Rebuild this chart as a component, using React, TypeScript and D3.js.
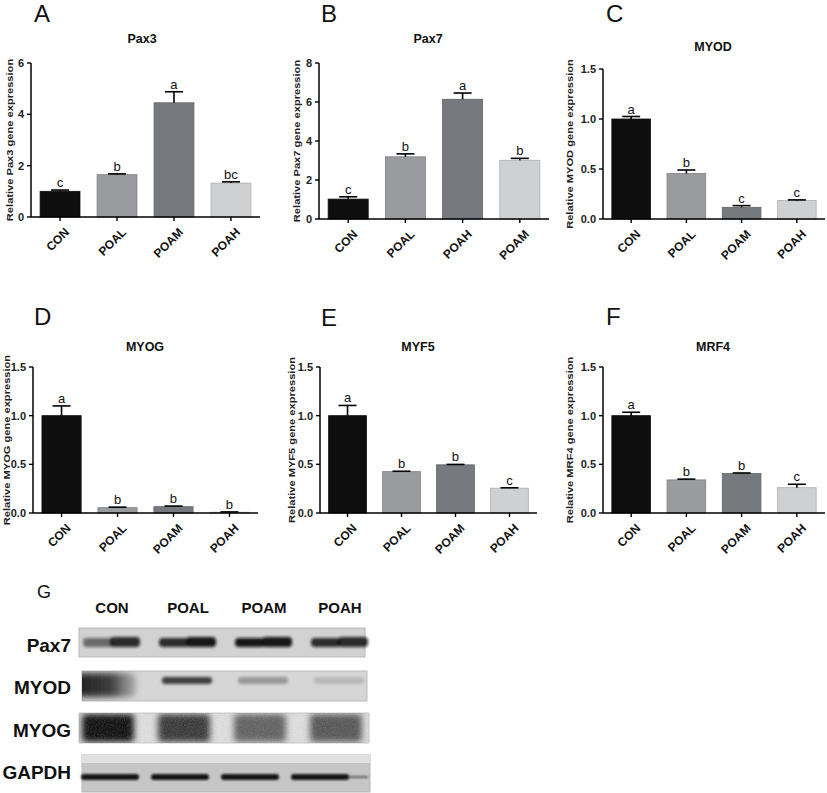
import React from 'react';
import * as d3 from 'd3';

// ---------- data ----------
const groupsStd = ['CON', 'POAL', 'POAM', 'POAH'];
const groupsPax7 = ['CON', 'POAL', 'POAH', 'POAM'];

const pax3Mean = [1.0, 1.65, 4.45, 1.32];
const pax3Err = [0.05, 0.03, 0.43, 0.05];
const pax3Sig = ['c', 'b', 'a', 'bc'];

const pax7Mean = [1.02, 3.19, 6.14, 3.01];
const pax7Err = [0.12, 0.15, 0.32, 0.1];
const pax7Sig = ['c', 'b', 'a', 'b'];

const myodMean = [1.0, 0.455, 0.117, 0.185];
const myodErr = [0.025, 0.035, 0.017, 0.006];
const myodSig = ['a', 'b', 'c', 'c'];

const myogMean = [1.0, 0.055, 0.065, 0.008];
const myogErr = [0.1, 0.005, 0.006, 0.003];
const myogSig = ['a', 'b', 'b', 'b'];

const myf5Mean = [1.0, 0.425, 0.495, 0.255];
const myf5Err = [0.105, 0.004, 0.004, 0.004];
const myf5Sig = ['a', 'b', 'b', 'c'];

const mrf4Mean = [1.0, 0.34, 0.405, 0.26];
const mrf4Err = [0.035, 0.008, 0.006, 0.035];
const mrf4Sig = ['a', 'b', 'b', 'c'];

const ticksBig6 = [0, 2, 4, 6];
const ticksBig8 = [0, 2, 4, 6, 8];
const ticksSmall = [0, 0.5, 1.0, 1.5];

// western blot (relative band darkness per lane)
const blotLanes = ['CON', 'POAL', 'POAM', 'POAH'];
const blotRows = ['Pax7', 'MYOD', 'MYOG', 'GAPDH'];
const pax7BandLeft = [0.55, 0.85, 0.95, 0.85];
const pax7BandRight = [0.85, 0.95, 0.95, 0.85];
const myodBand = [0.92, 0.75, 0.3, 0.15];
const myogBand = [1.0, 0.8, 0.6, 0.65];
const gapdhBand = [0.95, 0.95, 0.95, 0.95];

const barFills = ['#0e0e0e', '#9a9b9f', '#76797d', '#cfd0d2'];
const FONT = '"Liberation Sans", Arial, sans-serif';

type PanelProps = {
  letter: string; title: string; gene: string; cats: string[];
  mean: number[]; err: number[]; sig: string[]; yMax: number; ticks: number[]; fmt: string;
  axisX: number; axisRight: number; y0: number; yTop: number;
  titleX: number; titleY: number; letterX: number; letterY: number; ylabX: number;
};

function BarPanel(p: PanelProps) {
  const x = d3.scaleBand<string>().domain(p.cats).range([p.axisX, p.axisRight]).paddingInner(0.3).paddingOuter(0.16);
  const y = d3.scaleLinear().domain([0, p.yMax]).range([p.y0, p.yTop]);
  const f = d3.format(p.fmt);
  const bw = x.bandwidth();
  return (
    <g fontFamily={FONT}>
      <text x={p.letterX} y={p.letterY} fontSize={24} fill="#111">{p.letter}</text>
      <text x={p.titleX} y={p.titleY} fontSize={12.5} fontWeight="bold" textAnchor="middle" fill="#111">{p.title}</text>
      <text transform={`translate(${p.ylabX},${(p.y0 + p.yTop) / 2}) rotate(-90) scale(1.17,1)`} dy="0.35em" fontSize={9.5}
        fontWeight="bold" textAnchor="middle" fill="#222">{`Relative ${p.gene} gene expression`}</text>
      {p.cats.map((c, i) => {
        const cx = (x(c) as number) + bw / 2;
        const top = y(p.mean[i]);
        const et = y(p.mean[i] + p.err[i]);
        return (
          <g key={c}>
            <rect x={x(c)} y={top} width={bw} height={p.y0 - top} fill={barFills[i]}
              stroke={d3.color(barFills[i])!.darker(0.5).toString()} strokeWidth={0.8} />
            <line x1={cx} x2={cx} y1={top} y2={et} stroke="#000" strokeWidth={1.6} />
            <line x1={cx - 9} x2={cx + 9} y1={et} y2={et} stroke="#000" strokeWidth={1.6} />
            <text x={cx} y={et - 3} fontSize={13} textAnchor="middle" fill="#111">{p.sig[i]}</text>
            <line x1={cx} x2={cx} y1={p.y0} y2={p.y0 + 4} stroke="#000" strokeWidth={1.4} />
            <text transform={`translate(${cx + 4},${p.y0 + 10}) rotate(-45)`} fontSize={12} fontWeight="bold"
              textAnchor="end" dy="0.7em" fill="#111">{c}</text>
          </g>
        );
      })}
      <line x1={p.axisX} x2={p.axisX} y1={p.y0} y2={p.yTop} stroke="#000" strokeWidth={1.5} />
      <line x1={p.axisX} x2={p.axisRight} y1={p.y0} y2={p.y0} stroke="#000" strokeWidth={1.5} />
      {p.ticks.map((t) => (
        <g key={t}>
          <line x1={p.axisX - 4} x2={p.axisX} y1={y(t)} y2={y(t)} stroke="#000" strokeWidth={1.4} />
          <text x={p.axisX - 7} y={y(t)} dy="0.35em" fontSize={11} fontWeight="bold" textAnchor="end" fill="#222">{f(t)}</text>
        </g>
      ))}
    </g>
  );
}

function Blot() {
  const lane = d3.scalePoint<string>().domain(blotLanes).range([112, 340]);
  const rowY = d3.scalePoint<string>().domain(blotRows).range([645, 772]);
  const headerY = 613;
  return (
    <g fontFamily={FONT}>
      <defs>
        <filter id="b15" x="-50%" y="-100%" width="200%" height="300%"><feGaussianBlur stdDeviation="1.5" /></filter>
        <filter id="b3" x="-50%" y="-100%" width="200%" height="300%"><feGaussianBlur stdDeviation="3" /></filter>
        <filter id="b1" x="-50%" y="-100%" width="200%" height="300%"><feGaussianBlur stdDeviation="1" /></filter>
        <filter id="grain" x="0" y="0" width="1" height="1">
          <feTurbulence type="fractalNoise" baseFrequency="0.9" numOctaves="2" seed="4" />
          <feColorMatrix type="saturate" values="0" />
        </filter>
        <linearGradient id="myodCon" x1="0" x2="1" y1="0" y2="0">
          <stop offset="0" stopColor="#111" />
          <stop offset="0.6" stopColor="#333" />
          <stop offset="1" stopColor="#777" stopOpacity="0.5" />
        </linearGradient>
        <clipPath id="clipMyod"><rect x={82} y={671} width={285} height={30} /></clipPath>
        <clipPath id="clipMyog"><rect x={79} y={713} width={290} height={30} /></clipPath>
      </defs>
      <text x={37} y={598} fontSize={18} fill="#111">G</text>
      {blotLanes.map((l) => (
        <text key={l} x={lane(l)} y={headerY} fontSize={15} fontWeight="bold" textAnchor="middle" fill="#111">{l}</text>
      ))}
      {blotRows.map((r) => (
        <text key={r} x={71} y={(rowY(r) as number) + 7} fontSize={19} fontWeight="bold" textAnchor="end" fill="#111">{r}</text>
      ))}

      {/* Pax7 */}
      <rect x={79} y={628} width={286} height={29} fill="#d2d2d2" stroke="#b8b8b8" />
      {blotLanes.map((l, i) => {
        const cx = lane(l) as number;
        return (
          <g key={l} filter="url(#b15)">
            <rect x={cx - 29} y={638} width={30} height={9} rx={4} fill="#111" opacity={pax7BandLeft[i]} />
            <rect x={cx - 2} y={637} width={30} height={10} rx={4} fill="#0a0a0a" opacity={pax7BandRight[i]} />
          </g>
        );
      })}

      {/* MYOD */}
      <rect x={82} y={671} width={285} height={30} fill="#d6d6d6" stroke="#bdbdbd" />
      <g clipPath="url(#clipMyod)">
        {blotLanes.map((l, i) => {
          const cx = lane(l) as number;
          if (i === 0) {
            return <rect key={l} x={cx - 36} y={673} width={60} height={24} rx={6} fill="url(#myodCon)" opacity={myodBand[i]} filter="url(#b3)" />;
          }
          return <rect key={l} x={cx - 26} y={677} width={50} height={7} rx={3} fill="#111" opacity={myodBand[i]} filter="url(#b15)" />;
        })}
      </g>

      {/* MYOG */}
      <rect x={79} y={713} width={290} height={30} fill="#e2e2e2" stroke="#c8c8c8" />
      <g clipPath="url(#clipMyog)">
        {blotLanes.map((l, i) => {
          const cx = (lane(l) as number) - 5;
          return <rect key={l} x={cx - 25} y={714} width={52} height={28} rx={4} fill="#050505" opacity={myogBand[i]} filter="url(#b3)" />;
        })}
        <rect x={79} y={713} width={290} height={30} filter="url(#grain)" opacity={0.3} />
      </g>

      {/* GAPDH */}
      <rect x={82} y={755} width={288} height={37} fill="#c6c6c6" stroke="#b5b5b5" />
      <rect x={82} y={755} width={288} height={8} fill="#e0e0e0" />
      {blotLanes.map((l, i) => {
        const cx = (lane(l) as number) - 2 - i * 6;
        return <rect key={l} x={cx - 29} y={774} width={58} height={6} rx={3} fill="#0a0a0a" opacity={gapdhBand[i]} filter="url(#b1)" />;
      })}
      <rect x={348} y={776} width={20} height={2} fill="#222" opacity={0.6} filter="url(#b1)" />
    </g>
  );
}

export default function App() {
  return (
    <svg width={827} height={793} style={{ position: 'absolute', left: 0, top: 0, background: '#fff' }}>
      <rect width={827} height={793} fill="#fff" />
      <BarPanel letter="A" title="Pax3" gene="Pax3" cats={groupsStd} mean={pax3Mean} err={pax3Err} sig={pax3Sig}
        yMax={6} ticks={ticksBig6} fmt="d" axisX={31} axisRight={260} y0={217} yTop={63}
        titleX={142} titleY={43} letterX={34} letterY={22} ylabX={10} />
      <BarPanel letter="B" title="Pax7" gene="Pax7" cats={groupsPax7} mean={pax7Mean} err={pax7Err} sig={pax7Sig}
        yMax={8} ticks={ticksBig8} fmt="d" axisX={319} axisRight={549} y0={219} yTop={63}
        titleX={428} titleY={43} letterX={321} letterY={22} ylabX={297} />
      <BarPanel letter="C" title="MYOD" gene="MYOD" cats={groupsStd} mean={myodMean} err={myodErr} sig={myodSig}
        yMax={1.5} ticks={ticksSmall} fmt=".1f" axisX={603} axisRight={825} y0={219} yTop={69}
        titleX={713} titleY={51} letterX={606} letterY={22} ylabX={570} />
      <BarPanel letter="D" title="MYOG" gene="MYOG" cats={groupsStd} mean={myogMean} err={myogErr} sig={myogSig}
        yMax={1.5} ticks={ticksSmall} fmt=".1f" axisX={33} axisRight={258} y0={513} yTop={367}
        titleX={145} titleY={351} letterX={34} letterY={325} ylabX={6.5} />
      <BarPanel letter="E" title="MYF5" gene="MYF5" cats={groupsStd} mean={myf5Mean} err={myf5Err} sig={myf5Sig}
        yMax={1.5} ticks={ticksSmall} fmt=".1f" axisX={320} axisRight={537} y0={513} yTop={367}
        titleX={418} titleY={351} letterX={321} letterY={326} ylabX={292} />
      <BarPanel letter="F" title="MRF4" gene="MRF4" cats={groupsStd} mean={mrf4Mean} err={mrf4Err} sig={mrf4Sig}
        yMax={1.5} ticks={ticksSmall} fmt=".1f" axisX={603} axisRight={825} y0={513} yTop={367}
        titleX={713} titleY={351} letterX={606} letterY={325} ylabX={570} />
      <Blot />
    </svg>
  );
}
